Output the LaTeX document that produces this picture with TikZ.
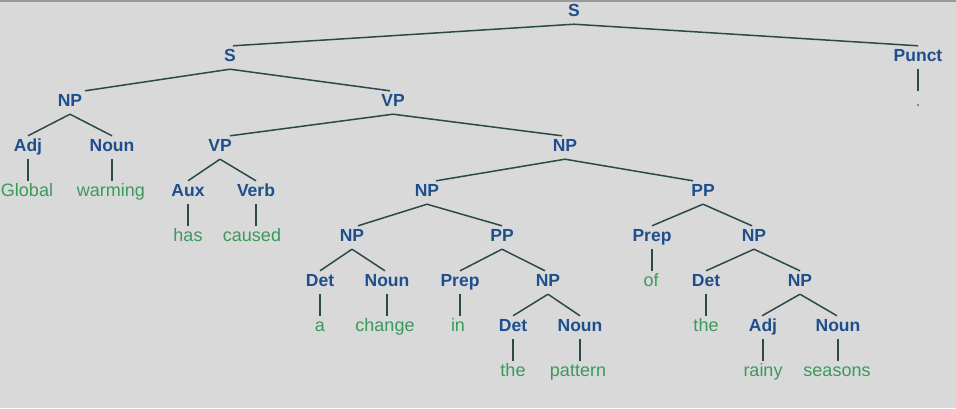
\documentclass[tikz,border=0pt]{standalone}
\usepackage{fontspec}
\setmainfont{Liberation Sans}
\definecolor{bgc}{HTML}{D9D9D9}
\definecolor{lblblue}{HTML}{1E4F8C}
\definecolor{wordgreen}{HTML}{3A9A5C}
\definecolor{edgec}{HTML}{2A4A48}
\definecolor{framec}{HTML}{9A9A9A}
\tikzset{
  cat/.style={anchor=base, inner sep=0pt, text height=15pt, text depth=8pt,
    text=lblblue, font=\fontsize{17.5}{18}\selectfont\bfseries},
  word/.style={anchor=base, inner sep=0pt, text height=15pt, text depth=8pt,
    text=wordgreen, font=\fontsize{18}{19}\selectfont},
  edge/.style={draw=edgec, line width=1.5pt}
}
\begin{document}
\begin{tikzpicture}[x=1pt,y=-1pt]
\fill[bgc] (0,0) rectangle (956,408);
\useasboundingbox (0,0) rectangle (956,408);
\draw[framec, line width=2pt] (0,1) -- (956,1);
% row 1
\node[cat] (s1) at (574,16) {S};
% row 2
\node[cat] (s2) at (230,61) {S};
\node[cat] (punct) at (918,61) {Punct};
% row 3
\node[cat] (np3) at (70,106) {NP};
\node[cat] (vp3) at (393,106) {VP};
\node[word] (dot) at (918,106) {.};
% row 4
\node[cat] (adj4) at (28,151) {Adj};
\node[cat] (noun4) at (112,151) {Noun};
\node[cat] (vp4) at (220,151) {VP};
\node[cat] (np4) at (565,151) {NP};
% row 5
\node[word] (global) at (27,196) {Global};
\node[word] (warming) at (111,196) {warming};
\node[cat] (aux) at (188,196) {Aux};
\node[cat] (verb) at (256,196) {Verb};
\node[cat] (np5) at (427,196) {NP};
\node[cat] (pp5) at (703,196) {PP};
% row 6
\node[word] (has) at (188,241) {has};
\node[word] (caused) at (252,241) {caused};
\node[cat] (np6) at (352,241) {NP};
\node[cat] (pp6) at (502,241) {PP};
\node[cat] (prep6) at (652,241) {Prep};
\node[cat] (np6b) at (754,241) {NP};
% row 7
\node[cat] (det7) at (320,286) {Det};
\node[cat] (noun7) at (387,286) {Noun};
\node[cat] (prep7) at (460,286) {Prep};
\node[cat] (np7) at (548,286) {NP};
\node[word] (of) at (651,286) {of};
\node[cat] (det7b) at (706,286) {Det};
\node[cat] (np7b) at (800,286) {NP};
% row 8
\node[word] (a) at (320,331) {a};
\node[word] (change) at (385,331) {change};
\node[word] (in) at (458,331) {in};
\node[cat] (det8) at (513,331) {Det};
\node[cat] (noun8) at (580,331) {Noun};
\node[word] (the8) at (706,331) {the};
\node[cat] (adj8) at (763,331) {Adj};
\node[cat] (noun8b) at (838,331) {Noun};
% row 9
\node[word] (the9) at (513,376) {the};
\node[word] (pattern) at (578,376) {pattern};
\node[word] (rainy) at (763,376) {rainy};
\node[word] (seasons) at (837,376) {seasons};
% edges between categories
\draw[edge] (s1.south) -- ([xshift=3pt]s2.north);
\draw[edge] (s1.south) -- (punct.north);
\draw[edge] (s2.south) -- ([xshift=15pt]np3.north);
\draw[edge] (s2.south) -- ([xshift=-3pt]vp3.north);
\draw[edge] (np3.south) -- (adj4.north);
\draw[edge] (np3.south) -- (noun4.north);
\draw[edge] (vp3.south) -- ([xshift=10pt]vp4.north);
\draw[edge] (vp3.south) -- ([xshift=-3pt]np4.north);
\draw[edge] (vp4.south) -- (aux.north);
\draw[edge] (vp4.south) -- (verb.north);
\draw[edge] (np4.south) -- ([xshift=9pt]np5.north);
\draw[edge] (np4.south) -- ([xshift=-10pt]pp5.north);
\draw[edge] (np5.south) -- ([xshift=6pt]np6.north);
\draw[edge] (np5.south) -- (pp6.north);
\draw[edge] (np6.south) -- (det7.north);
\draw[edge] (np6.south) -- ([xshift=-2pt]noun7.north);
\draw[edge] (pp6.south) -- (prep7.north);
\draw[edge] (pp6.south) -- ([xshift=-3pt]np7.north);
\draw[edge] (np7.south) -- (det8.north);
\draw[edge] (np7.south) -- (noun8.north);
\draw[edge] (pp5.south) -- (prep6.north);
\draw[edge] (pp5.south) -- ([xshift=-2pt]np6b.north);
\draw[edge] (np6b.south) -- (det7b.north);
\draw[edge] (np6b.south) -- (np7b.north);
\draw[edge] (np7b.south) -- ([xshift=-1pt]adj8.north);
\draw[edge] (np7b.south) -- ([xshift=-1pt]noun8b.north);
% edges to words (vertical)
\draw[edge] (punct.south) -- (punct.south |- dot.north);
\draw[edge] (adj4.south) -- (adj4.south |- global.north);
\draw[edge] (noun4.south) -- (noun4.south |- warming.north);
\draw[edge] (aux.south) -- (aux.south |- has.north);
\draw[edge] (verb.south) -- (verb.south |- caused.north);
\draw[edge] (det7.south) -- (det7.south |- a.north);
\draw[edge] (noun7.south) -- (noun7.south |- change.north);
\draw[edge] (prep7.south) -- (prep7.south |- in.north);
\draw[edge] (det8.south) -- (det8.south |- the9.north);
\draw[edge] (noun8.south) -- (noun8.south |- pattern.north);
\draw[edge] (prep6.south) -- (prep6.south |- of.north);
\draw[edge] (det7b.south) -- (det7b.south |- the8.north);
\draw[edge] (adj8.south) -- (adj8.south |- rainy.north);
\draw[edge] (noun8b.south) -- (noun8b.south |- seasons.north);
\end{tikzpicture}
\end{document}
